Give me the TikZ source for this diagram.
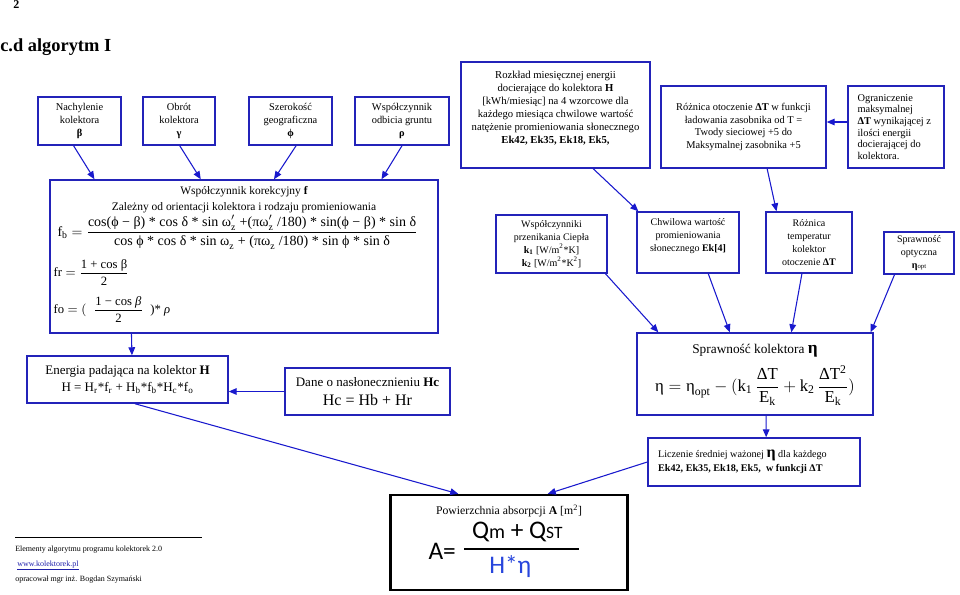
\RequirePackage{fix-cm}
\documentclass[tikz,border=0pt]{standalone}
\usepackage{fontspec}
\usepackage{amsmath}
\setmainfont{Liberation Serif}
\newfontfamily\calib{Carlito}
\usetikzlibrary{arrows.meta,calc}
\definecolor{bblue}{RGB}{35,35,185}
\definecolor{ablue}{RGB}{25,25,205}
\definecolor{hblue}{RGB}{40,70,220}
\definecolor{lblue}{RGB}{30,30,170}
\newcommand{\fs}[2]{\fontsize{#1}{#2}\selectfont}
\begin{document}
\begin{tikzpicture}[x=0.75pt,y=-0.75pt,
  bx/.style 2 args={draw=bblue,line width=1.1pt,minimum width=#1*0.75pt,minimum height=#2*0.75pt,inner sep=0pt,align=center},
  arr/.style={draw=ablue,line width=0.8pt,-{Triangle[length=6pt,width=5pt]}},
  ttop/.style={font=\fs{7.8}{9.4}},
  tmid/.style={font=\fs{7.5}{9.75}},
  plain/.style={inner sep=0pt}]
\useasboundingbox (0,0) rectangle (960,594);

% header
\node[plain,anchor=north west,font=\fs{9}{10}\bfseries] (pnum) at (13,0) {2};
\node[plain,anchor=base west,font=\fs{13.8}{16}\bfseries] (title) at (0,51) {c.d algorytm I};

% top row
\node[bx={83}{48},ttop] (b1) at (79.5,121) {Nachylenie\\kolektora\\\textbf{β}};
\node[bx={72}{48},ttop] (b2) at (179,121) {Obrót\\kolektora\\\textbf{γ}};
\node[bx={83}{48},ttop] (b3) at (290.5,121) {Szerokość\\geograficzna\\\textbf{ϕ}};
\node[bx={94}{48},ttop] (b4) at (402,121) {Współczynnik\\odbicia gruntu\\\textbf{ρ}};
\node[bx={189}{106}] (rozk) at (555.5,115) {};
\node[plain,anchor=north,align=center,font=\fs{8}{9.75}] (rozkt) at ([yshift=-7pt]rozk.north)
  {Rozkład miesięcznej energii\\docierające do kolektora \textbf{H}\\{}[kWh/miesiąc] na 4 wzorcowe dla\\każdego miesiąca chwilowe wartość\\natężenie promieniowania słonecznego\\\textbf{Ek42, Ek35, Ek18, Ek5,}};
\node[bx={165}{82},font=\fs{7.8}{9.6}] (rozn) at (743.5,127) {Różnica otoczenie \textbf{ΔT} w funkcji\\ładowania zasobnika od T =\\Twody sieciowej +5 do\\Maksymalnej zasobnika +5};
\node[bx={96}{82}] (ogr) at (896,127) {};
\node[plain,anchor=west,align=left,font=\fs{7.8}{8.7}] (ogrt) at ([xshift=7.5pt]ogr.west)
  {Ograniczenie\\maksymalnej\\\textbf{ΔT} wynikającej z\\ilości energii\\docierającej do\\kolektora.};

% correction factor box
\node[bx={388}{153}] (fbox) at (244,256.5) {};
\node[plain,anchor=north,align=center,font=\fs{8.6}{11.8}] (ftit) at ([yshift=-5pt]fbox.north)
  {Współczynnik korekcyjny \textbf{f}\\Zależny od orientacji kolektora i rodzaju promieniowania};
\node[plain,anchor=west,font=\fs{10.5}{12}] (ffb) at ($(fbox.north west)+(8,53)$)
  {$\text{f}_{\text{b}} = \dfrac{\text{cos(ϕ − β) * cos δ * sin ω}'_{\text{z}}\text{ +(πω}'_{\text{z}}\text{ /180) * sin(ϕ − β) * sin δ}}{\text{cos ϕ * cos δ * sin ω}_{\text{z}}\text{ + (πω}_{\text{z}}\text{ /180) * sin ϕ * sin δ}}$};
\node[plain,anchor=west,font=\fs{9.5}{11}] (ffr) at ($(fbox.north west)+(4,93)$)
  {$\text{fr} = \dfrac{\text{1 + cos β}}{\text{2}}$};
\node[plain,anchor=west,font=\fs{9.5}{11}] (ffo) at ($(fbox.north west)+(4,130)$)
  {$\text{fo} = (\;\;\dfrac{\text{1 − cos }\textit{β}}{\text{2}}\;\;\text{)* }\textit{ρ}$};

% third row
\node[bx={111}{58},tmid] (wsp) at (551.5,244) {Współczynniki\\przenikania Ciepła\\\textbf{k\textsubscript{1}} [W/m\textsuperscript{2}*K]\\\textbf{k\textsubscript{2}} [W/m\textsuperscript{2}*K\textsuperscript{2}]};
\node[bx={102}{61},tmid] (chw) at (688,242.5) {Chwilowa wartość\\promieniowania\\słonecznego \textbf{Ek[4]}\\[2pt]};
\node[bx={86}{61},tmid] (rtemp) at (809,242.5) {Różnica\\temperatur\\kolektor\\otoczenie \textbf{ΔT}};
\node[bx={70}{42},tmid] (sopt) at (919,253) {Sprawność\\optyczna\\\textbf{η}{\fs{5}{6}opt}};

% energy boxes
\node[bx={201}{47},font=\fs{9.75}{12.75}] (ener) at (127.5,379.5) {Energia padająca na kolektor \textbf{H}\\H = H\textsubscript{r}*f\textsubscript{r} + H\textsubscript{b}*f\textsubscript{b}*H\textsubscript{c}*f\textsubscript{o}};
\node[bx={165}{47},font=\fs{9.75}{14}] (dane) at (367.5,391.5) {Dane o nasłonecznieniu \textbf{Hc}\\{\fs{12}{14}Hc = Hb + Hr}};

% collector efficiency
\node[bx={236}{82}] (skol) at (755,374) {};
\node[plain,anchor=north,font=\fs{10}{12}] (skolt) at ([yshift=-9pt]skol.north) {Sprawność kolektora {\fs{13}{14}\textbf{η}}};
\node[plain,font=\fs{12.6}{14}] (skolf) at ($(skol.north)+(0,53)$)
  {$\text{η} = \text{η}_{\text{opt}} - (\text{k}_{\text{1}}\,\dfrac{\text{ΔT}}{\text{E}_{\text{k}}} + \text{k}_{\text{2}}\,\dfrac{\text{ΔT}^{\text{2}}}{\text{E}_{\text{k}}})$};
\node[bx={212}{48}] (lic) at (754,462) {};
\node[plain,anchor=west,align=left,font=\fs{7.6}{10.5}] (lict) at ([xshift=8pt]lic.west)
  {Liczenie średniej ważonej {\fs{12}{10}\textbf{η}} dla każdego\\\textbf{Ek42, Ek35, Ek18, Ek5,~ w funkcji ΔT}};

% absorption area
\node[draw=black,line width=1.8pt,minimum width=237*0.75pt,minimum height=95*0.75pt,inner sep=0pt] (abs) at (509,542.5) {};
\node[plain,anchor=north,font=\fs{8.8}{10}] (abst) at ([yshift=-8pt]abs.north) {Powierzchnia absorpcji \textbf{A} [m\textsuperscript{2}]};
\node[plain,anchor=west,font=\calib\fs{19}{20}] (absa) at ($(abs.north west)+(39,58)$) {A=};
\draw[line width=1.4pt] ($(abs.north west)+(75,55)$) -- ($(abs.north west)+(190,55)$);
\node[plain,font=\calib\fs{19}{20}] (absn) at ($(abs.north west)+(128,38)$) {Q{\fs{15}{16}m} + Q{\fs{13}{14}ST}};
\node[plain,font=\calib\fs{19}{20},text=hblue] (absd) at ($(abs.north west)+(121,73)$) {H*η};

% footer
\node[plain,anchor=base west,font=\fs{6}{7}] (foot1) at (15,551) {Elementy algorytmu programu kolektorek 2.0};
\node[plain,anchor=base west,font=\fs{6}{7},text=lblue] (foot2) at (17,566) {\underline{www.kolektorek.pl}};
\node[plain,anchor=base west,font=\fs{6}{7}] (foot3) at (15,581) {opracował mgr inż. Bogdan Szymański};
\draw[line width=0.6pt] ([yshift=6pt]foot1.north west) -- ++(187,0);

% connectors
\draw[arr] ($(b1.south west)!0.43!(b1.south east)$) -- ($(fbox.north west)!0.116!(fbox.north east)$);
\draw[arr] ($(b2.south west)!0.51!(b2.south east)$) -- ($(fbox.north west)!0.389!(fbox.north east)$);
\draw[arr] ($(b3.south west)!0.566!(b3.south east)$) -- ($(fbox.north west)!0.577!(fbox.north east)$);
\draw[arr] ($(b4.south west)!0.5!(b4.south east)$) -- ($(fbox.north west)!0.853!(fbox.north east)$);
\draw[arr] ($(rozk.south west)!0.698!(rozk.south east)$) -- ($(chw.north west)!0.02!(chw.north east)$);
\draw[arr] ($(rozn.south west)!0.642!(rozn.south east)$) -- ($(rtemp.north west)!0.128!(rtemp.north east)$);
\draw[arr] ([yshift=3.75pt]ogr.west) -- ([yshift=3.75pt]rozn.east);
\draw[arr] ($(wsp.south west)!0.98!(wsp.south east)$) -- ($(skol.north west)!0.093!(skol.north east)$);
\draw[arr] ($(chw.south west)!0.696!(chw.south east)$) -- ($(skol.north west)!0.394!(skol.north east)$);
\draw[arr] ($(rtemp.south west)!0.419!(rtemp.south east)$) -- ($(skol.north west)!0.653!(skol.north east)$);
\draw[arr] ($(sopt.south west)!0.157!(sopt.south east)$) -- ($(skol.north west)!0.987!(skol.north east)$);
\draw[arr] ($(fbox.south west)!0.211!(fbox.south east)$) -- ($(ener.north west)!0.522!(ener.north east)$);
\draw[arr] (dane.west) -- (dane.west -| ener.east);
\draw[arr] ($(skol.south west)!0.547!(skol.south east)$) -- ($(lic.north west)!0.557!(lic.north east)$);
\draw[arr] ($(ener.south west)!0.537!(ener.south east)$) -- ($(abs.north west)!0.288!(abs.north east)$);
\draw[arr] (lic.west) -- ($(abs.north west)!0.662!(abs.north east)$);
\end{tikzpicture}
\end{document}
